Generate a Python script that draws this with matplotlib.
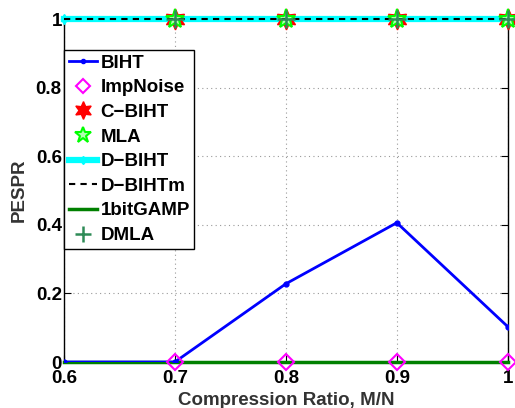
import numpy as np
import matplotlib.pyplot as plt

# compression ratios and PESPR per method
ratio = [0.6, 0.7, 0.8, 0.9, 1.0]
ratio_marked = [0.7, 0.8, 0.9, 1.0]
biht = [0.0, 0.0, 0.228, 0.406, 0.103]
imp_noise = [0.0, 0.0, 0.0, 0.0]
c_biht = [1.0, 1.0, 1.0, 1.0]
mla = [1.0, 1.0, 1.0, 1.0]
d_biht = [1.0, 1.0, 1.0, 1.0, 1.0]
d_bihtm = [1.0, 1.0, 1.0, 1.0, 1.0]
gamp = [0.0, 0.0, 0.0, 0.0, 0.0]
dmla = [1.0, 1.0, 1.0, 1.0]

xticks = [0.6, 0.7, 0.8, 0.9, 1.0]
xticklabels = ['0.6', '0.7', '0.8', '0.9', '1']
yticks = [0, 0.2, 0.4, 0.6, 0.8, 1.0]
yticklabels = ['0', '0.2', '0.4', '0.6', '0.8', '1']

plt.rcParams['font.family'] = ['Liberation Sans', 'DejaVu Sans']
plt.rcParams['font.weight'] = 'bold'

fig = plt.figure(figsize=(5.15, 4.08), dpi=100)
ax = fig.add_axes([0.124, 0.1127, 0.862, 0.8407])

ax.plot(ratio, biht, color='#0000ff', lw=2, marker='o', ms=3.5, label='BIHT', zorder=5)
ax.plot(ratio_marked, imp_noise, ls='none', marker='D', ms=8.5, mfc='none', mec='#ff00ff',
        mew=1.5, label='ImpNoise', zorder=6, clip_on=False)
ax.plot(ratio_marked, c_biht, ls='none', marker=(6, 1, 0), ms=15, color='#ff0000',
        label='C\u2212BIHT', zorder=4, clip_on=False)
ax.plot(ratio_marked, mla, ls='none', marker='*', ms=14, mfc='#b0ffb0', mec='#00ff00',
        mew=1.5, label='MLA', zorder=4, clip_on=False)
ax.plot(ratio, d_biht, color='#00ffff', lw=4.5, marker='d', ms=5, label='D\u2212BIHT',
        zorder=3, clip_on=False)
ax.plot(ratio, d_bihtm, color='black', lw=1.5, ls=(0, (3, 2.5)), label='D\u2212BIHTm',
        zorder=4, clip_on=False)
ax.plot(ratio, gamp, color='#008000', lw=2.5, label='1bitGAMP', zorder=4, clip_on=False)
ax.plot(ratio_marked, dmla, ls='none', marker='+', ms=13, mew=1.8, color='#2e8b57',
        label='DMLA', zorder=5, clip_on=False)

ax.set_xlim(0.6, 1.0)
ax.set_ylim(0, 1.0)
ax.set_xticks(xticks)
ax.set_xticklabels(xticklabels, fontsize=13.5, fontweight='heavy')
ax.set_yticks(yticks)
ax.set_yticklabels(yticklabels, fontsize=13.5, fontweight='heavy')
ax.tick_params(axis='x', direction='in', length=5, width=0.8, pad=6, top=True)
ax.tick_params(axis='y', direction='in', length=5, width=0.8, pad=1.5, right=True)
ax.grid(True, ls=(0, (1, 3)), color='#999999', lw=0.8)
for s in ax.spines.values():
    s.set_linewidth(1.0)

ax.set_xlabel('Compression Ratio, M/N', fontsize=13.5, fontweight='heavy', color='#333333', labelpad=3)
ax.set_ylabel('PESPR', fontsize=13.5, fontweight='heavy', color='#333333', labelpad=6)

leg = ax.legend(loc='upper left', bbox_to_anchor=(0.0, 0.91), fontsize=13.5,
                frameon=True, fancybox=False, edgecolor='black', framealpha=1,
                handlelength=1.5, handletextpad=0.2, labelspacing=0.4,
                borderpad=0.25, borderaxespad=0, markerscale=0.85)
leg.get_frame().set_linewidth(1.0)
for t in leg.get_texts():
    t.set_fontweight('heavy')

fig.savefig('out.png', dpi=100)
